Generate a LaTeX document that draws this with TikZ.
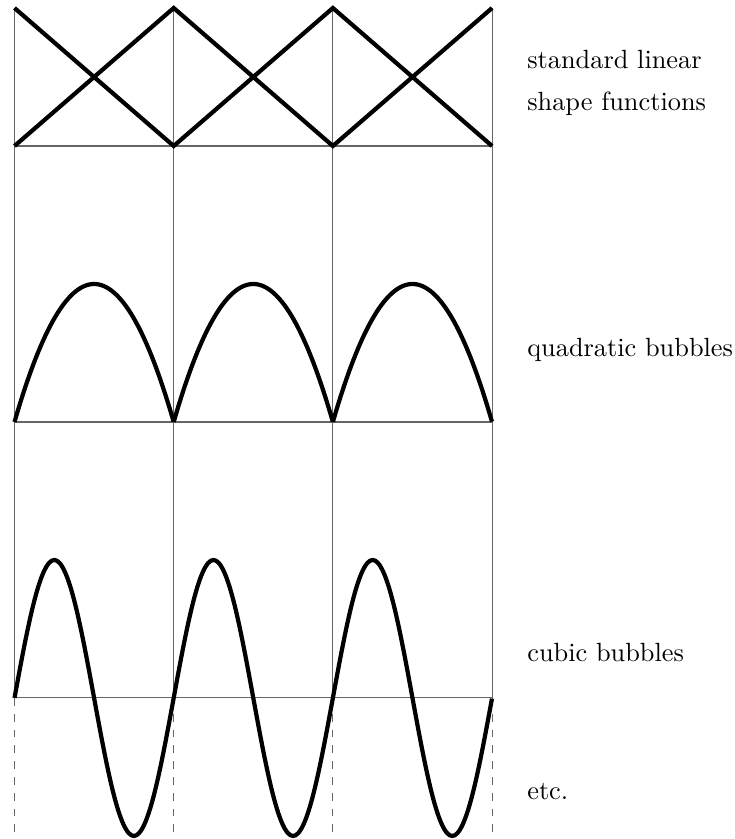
\documentclass[tikz,border=0pt]{standalone}
\usepackage{tikz}
\usetikzlibrary{positioning}

\begin{document}
\begin{tikzpicture}[
    x=2.1255cm, y=1.8425cm,
    grid/.style={black!60, thin},
    ext/.style={grid, dashed},
    fn/.style={ultra thick, black},
    lbl/.style={anchor=west, align=left},
]
\useasboundingbox (-0.0911,-1.022) rectangle (4.526,5.058);

% Element grid
\foreach \x in {0,1,2,3} {
    \draw[grid] (\x,0) -- (\x,5);
    \draw[ext] (\x,0) -- (\x,-1);
}
\foreach \y in {0,2,4}
    \draw[grid] (0,\y) -- (3,\y);

% Linear hats
\draw[fn] (0,5) -- (1,4) -- (2,5) -- (3,4);
\draw[fn] (0,4) -- (1,5) -- (2,4) -- (3,5);

% Quadratic bubbles
\foreach \i in {0,1,2}
    \draw[fn, domain=\i:\i+1, samples=60, smooth] plot (\x, {2+4*(\x-\i)*(\i+1-\x)});

% Cubic bubbles
\draw[fn, domain=0:3, samples=181, smooth] plot (\x, {sin(360*\x)});

% Labels
\node[lbl] (linlbl) at (3.163,4.46) {standard linear\\[4pt]shape functions};
\node[lbl] (quadlbl) at (3.163,2.52) {quadratic bubbles};
\node[lbl] (cublbl) at (3.163,0.33) {cubic bubbles};
\node[lbl] (etclbl) at (3.163,-0.68) {etc.};

\end{tikzpicture}
\end{document}
